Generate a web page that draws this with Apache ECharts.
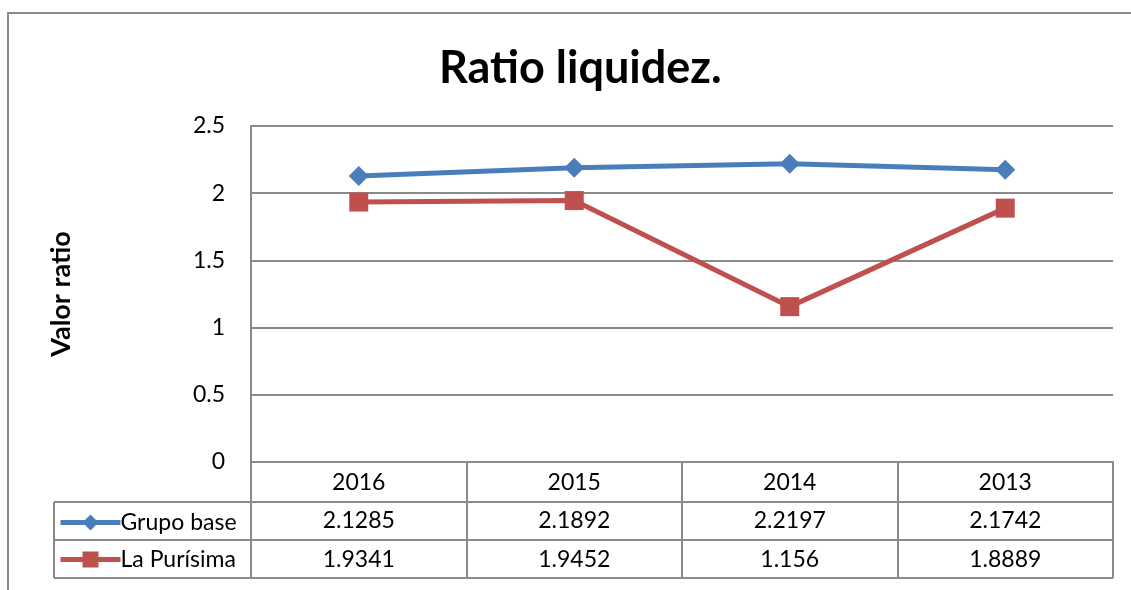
<!DOCTYPE html>
<html>
<head>
<meta charset="utf-8">
<script src="https://cdn.jsdelivr.net/npm/echarts@6/dist/echarts.min.js"></script>
<style>
  html, body { margin: 0; padding: 0; background: #fff; }
  #chart { width: 1131px; height: 590px; }
</style>
</head>
<body>
<div id="chart"></div>
<script>
// Ratio liquidez - datos
const years = ['2016', '2015', '2014', '2013'];
const grupoBase = [2.1285, 2.1892, 2.2197, 2.1742];
const laPurisima = [1.9341, 1.9452, 1.156, 1.8889];
const yTicks = [0, 0.5, 1, 1.5, 2, 2.5];

const FONT = 'Lato, "Open Sans", sans-serif';
const GRAY = '#8a8a8a';

function renderChart() {
  const chart = echarts.init(document.getElementById('chart'));
  const option = {
    animation: false,
    title: {
      text: 'Ratio liquidez.',
      left: 434,
      top: 41,
      textStyle: { fontFamily: FONT, fontSize: 45, fontWeight: 'bold', color: '#000' },
    },
    legend: {
      orient: 'vertical',
      left: 53,
      top: 506,
      itemWidth: 60,
      itemHeight: 20,
      itemGap: 14,
      lineStyle: { width: 5 },
      textStyle: { fontFamily: FONT, fontSize: 23, color: '#000', padding: [0, 0, 0, -5] },
      data: ['Grupo base', 'La Purísima'],
    },
    grid: {
      left: 251,
      right: 18,
      top: 126,
      bottom: 128,
    },
    xAxis: {
      type: 'category',
      data: years,
      boundaryGap: true,
      axisLine: { show: true, lineStyle: { color: GRAY, width: 2 } },
      axisTick: { show: true, interval: 0, length: 116, lineStyle: { color: GRAY, width: 2 } },
      axisLabel: {
        interval: 0,
        margin: 1,
        fontFamily: FONT,
        fontSize: 23,
        color: '#000',
        lineHeight: 38.5,
        formatter: (v, i) => [v, grupoBase[i], laPurisima[i]].join('\n'),
      },
    },
    yAxis: {
      type: 'value',
      min: yTicks[0],
      max: yTicks[yTicks.length - 1],
      interval: 0.5,
      name: 'Valor ratio',
      nameLocation: 'middle',
      nameGap: 176,
      nameTextStyle: { fontFamily: FONT, fontSize: 27, fontWeight: 'bold', color: '#000' },
      axisLine: { show: true, lineStyle: { color: GRAY, width: 2 } },
      axisTick: { show: false },
      axisLabel: { fontFamily: FONT, fontSize: 23, color: '#000', margin: 26 },
      splitLine: { lineStyle: { color: GRAY, width: 2 } },
    },
    series: [
      {
        name: 'Grupo base',
        type: 'line',
        data: grupoBase,
        symbol: 'diamond',
        symbolSize: 20,
        itemStyle: { color: '#4A7EBB' },
        lineStyle: { color: '#4A7EBB', width: 5 },
      },
      {
        name: 'La Purísima',
        type: 'line',
        data: laPurisima,
        symbol: 'rect',
        symbolSize: 19,
        itemStyle: { color: '#C0504D' },
        lineStyle: { color: '#C0504D', width: 5 },
      },
    ],
  };
  chart.setOption(option, true);

  // tabla de datos: bordes del marco y filas
  const line = (x1, y1, x2, y2) => ({
    type: 'line',
    shape: { x1, y1, x2, y2 },
    style: { stroke: GRAY, lineWidth: 2 },
    silent: true,
  });
  chart.setOption({
    graphic: [
      { type: 'rect', shape: { x: 8, y: 13, width: 1140, height: 600 },
        style: { fill: 'none', stroke: GRAY, lineWidth: 2 }, silent: true },
      line(54, 502, 1113, 502),
      line(54, 540, 1113, 540),
      line(54, 578, 1113, 578),
      line(54, 502, 54, 578),
    ],
  });
}
renderChart();
</script>
</body>
</html>
